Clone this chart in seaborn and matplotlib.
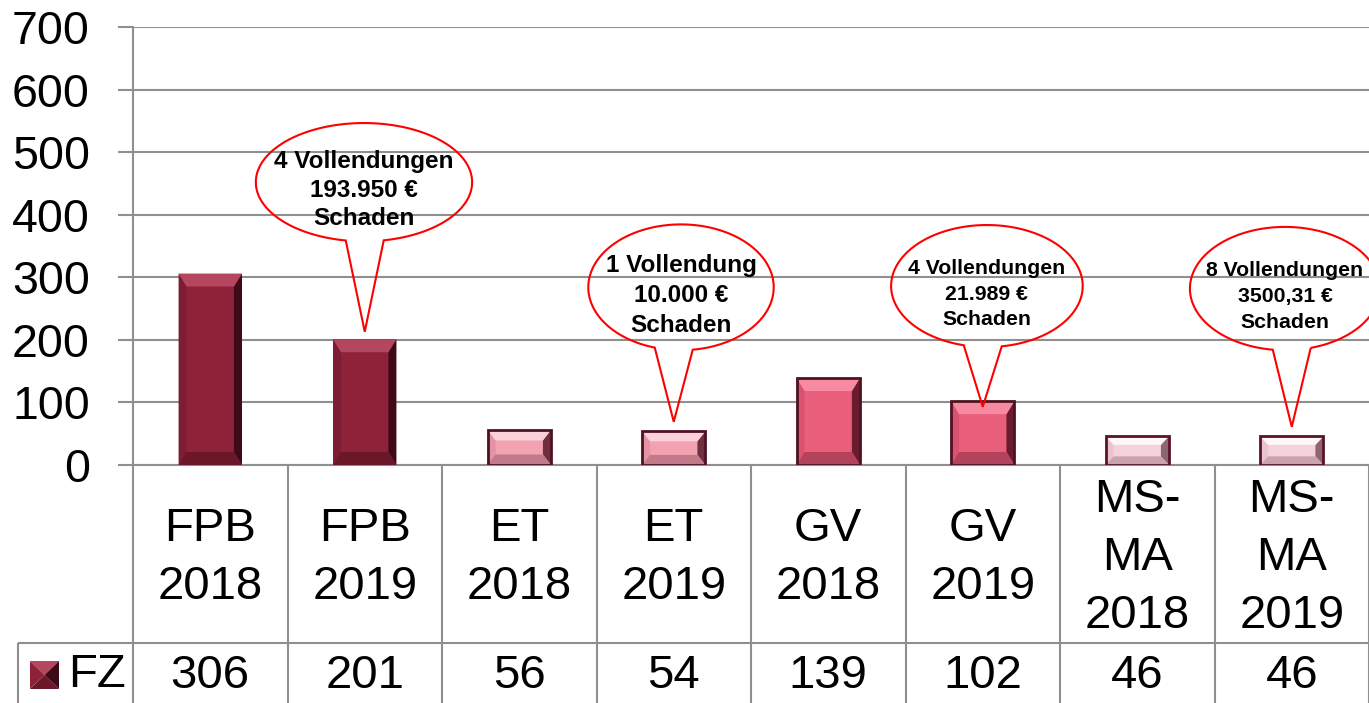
import numpy as np
import pandas as pd

import seaborn as sns
import matplotlib.pyplot as plt
from matplotlib.patches import Polygon

sns.set_style("white")
plt.rcParams["font.family"] = ["Liberation Sans", "DejaVu Sans"]
plt.rcParams["text.color"] = "black"

W, H, DPI = 1369, 703, 100
GRID = "#8f8f8f"

# data
categories = ["FPB\n2018", "FPB\n2019", "ET\n2018", "ET\n2019",
              "GV\n2018", "GV\n2019", "MS-\nMA\n2018", "MS-\nMA\n2019"]
fz_values = [306, 201, 56, 54, 139, 102, 46, 46]
series_name = "FZ"
y_ticks = [0, 100, 200, 300, 400, 500, 600, 700]

callout_bars = [1, 3, 5, 7]
callout_texts = ["4 Vollendungen\n193.950 €\nSchaden",
                 "1 Vollendung\n10.000 €\nSchaden",
                 "4 Vollendungen\n21.989 €\nSchaden",
                 "8 Vollendungen\n3500,31 €\nSchaden"]

# styles: face, top, bottom, left, right, edge
bar_styles = [
    ("#8e2239", "#b4475f", "#6b1729", "#7d1d33", "#3f0a17", None),
    ("#8e2239", "#b4475f", "#6b1729", "#7d1d33", "#3f0a17", None),
    ("#f3a2b2", "#fbd0da", "#c27a8a", "#e592a4", "#6f2f40", "#4e1222"),
    ("#f3a2b2", "#fbd0da", "#c27a8a", "#e592a4", "#6f2f40", "#4e1222"),
    ("#e85e7b", "#f68aa0", "#b3435d", "#d9526f", "#6b1b2e", "#4e1222"),
    ("#e85e7b", "#f68aa0", "#b3435d", "#d9526f", "#6b1b2e", "#4e1222"),
    ("#f4d2da", "#fff6f8", "#cba3ad", "#eac3cc", "#8d6573", "#5a1426"),
    ("#f4d2da", "#fff6f8", "#cba3ad", "#eac3cc", "#8d6573", "#5a1426"),
]

# callout layout (center x, center y, width, height, tip offset, fontsize, linespacing)
callout_layout = [
    (0.995, 452, 1.40, 189, 12, 17.5, 1.30),
    (3.047, 284, 1.20, 201, 15, 17.5, 1.40),
    (5.027, 286, 1.24, 195, -9, 15.3, 1.45),
    (6.956, 282, 1.23, 197, 15, 15.3, 1.45),
]

fig = plt.figure(figsize=(W / DPI, H / DPI), dpi=DPI)
ax = fig.add_axes([133 / W, (H - 465) / H, (W - 133) / W, (465 - 27) / H])

df = pd.DataFrame({"kategorie": categories, "FZ": fz_values})
sns.barplot(data=df, x="kategorie", y="FZ", hue="kategorie",
            palette=[s[0] for s in bar_styles], width=0.41, legend=False,
            linewidth=0, saturation=1, ax=ax)

ax.set_xlim(-0.5, 7.5)
ax.set_ylim(0, 700)
ax.set_yticks(y_ticks)
ax.set_xticks([])
ax.set_xlabel("")
ax.set_ylabel("")
ax.grid(axis="y", color=GRID, lw=1.5)
ax.set_axisbelow(True)
for side in ["top", "right"]:
    ax.spines[side].set_visible(False)
for side in ["left", "bottom"]:
    ax.spines[side].set_color(GRID)
    ax.spines[side].set_linewidth(1.5)
ax.tick_params(axis="y", left=True, direction="out", length=11, width=1.5,
               color=GRID, pad=20, labelsize=33.5, labelcolor="black")

# pixel scale
p0 = ax.transData.transform((0, 0))
p1 = ax.transData.transform((1, 100))
sx = p1[0] - p0[0]
sy = (p1[1] - p0[1]) / 100

# bevel effect
bars = sorted(ax.patches, key=lambda p: p.get_x())
for bar, st in zip(bars, bar_styles):
    x0, w, h = bar.get_x(), bar.get_width(), bar.get_height()
    x1 = x0 + w
    bx = 8 / sx
    by = min(13, 0.3 * h * sy) / sy
    bar.set_zorder(3)
    facets = [
        ([(x0, 0), (x0, h), (x0 + bx, h - by), (x0 + bx, by)], st[3]),
        ([(x1, 0), (x1, h), (x1 - bx, h - by), (x1 - bx, by)], st[4]),
        ([(x0, h), (x1, h), (x1 - bx, h - by), (x0 + bx, h - by)], st[1]),
        ([(x0, 0), (x1, 0), (x1 - bx, by), (x0 + bx, by)], st[2]),
    ]
    for pts, col in facets:
        ax.add_patch(Polygon(pts, closed=True, facecolor=col, edgecolor="none", zorder=3.1))
    if st[5]:
        ax.add_patch(plt.Rectangle((x0, 0), w, h, fill=False, edgecolor=st[5],
                                   lw=2, zorder=3.2))

# callouts
for bi, txt, (cx, cy, cw, ch, toff, fs, ls) in zip(callout_bars, callout_texts, callout_layout):
    a, b = cw / 2, ch / 2
    tipx, tipy = bi, fz_values[bi] + toff
    half = 19 / sx
    bl, br = tipx - half, tipx + half
    tl = np.arctan2(-np.sqrt(1 - ((bl - cx) / a) ** 2), (bl - cx) / a)
    tr = np.arctan2(-np.sqrt(1 - ((br - cx) / a) ** 2), (br - cx) / a)
    t = np.linspace(tr, tl + 2 * np.pi, 300)
    pts = list(zip(cx + a * np.cos(t), cy + b * np.sin(t)))
    pts.append((tipx, tipy))
    ax.add_patch(Polygon(pts, closed=True, fill=False, edgecolor="red", lw=1.5,
                         zorder=4, clip_on=False))
    ax.text(cx, cy - 13, txt, ha="center", va="center", fontsize=fs,
            fontweight="bold", linespacing=ls, zorder=5, clip_on=False)

# data table
tab = fig.add_axes([18 / W, 0, (W - 18) / W, 238 / H])
xl = -0.5 - (133 - 18) / sx
tab.set_xlim(xl, 7.5)
tab.set_ylim(0, 238)
tab.axis("off")
tab.vlines([k - 0.5 for k in range(9)], 0, 238, color=GRID, lw=1.5, clip_on=False)
tab.hlines(60, xl, 7.5, color=GRID, lw=1.5, clip_on=False)
tab.vlines(xl, 0, 60, color=GRID, lw=1.5, clip_on=False)

for i, (c, v) in enumerate(zip(categories, fz_values)):
    tab.text(i, 145, c, ha="center", va="center", fontsize=34, linespacing=1.42)
    tab.text(i, 27, str(v), ha="center", va="center", fontsize=34)

# legend key
kx0 = xl + (30 - 18) / sx
kx1 = xl + (59 - 18) / sx
ky0, ky1 = 14, 42
kmx, kmy = (kx0 + kx1) / 2, (ky0 + ky1) / 2
st = bar_styles[0]
for pts, col in [
    ([(kx0, ky1), (kx1, ky1), (kmx, kmy)], st[1]),
    ([(kx0, ky0), (kx1, ky0), (kmx, kmy)], st[2]),
    ([(kx0, ky0), (kx0, ky1), (kmx, kmy)], st[0]),
    ([(kx1, ky0), (kx1, ky1), (kmx, kmy)], st[4]),
]:
    tab.add_patch(Polygon(pts, closed=True, facecolor=col, edgecolor="none"))
tab.text(xl + (68 - 18) / sx, 28, series_name, ha="left", va="center", fontsize=34)

fig.savefig("out.png", dpi=DPI)
